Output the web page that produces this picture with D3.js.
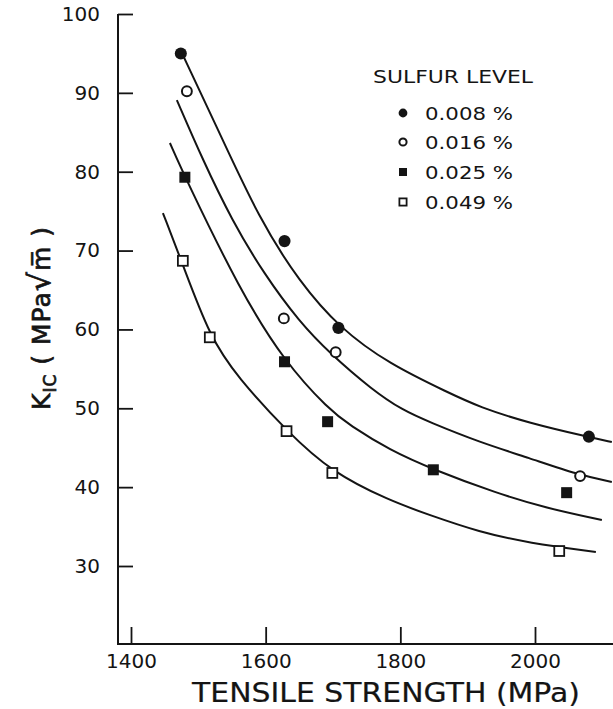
<!DOCTYPE html>
<html><head><meta charset="utf-8">
<script src="https://cdn.jsdelivr.net/npm/d3@7"></script>
<style>
body{margin:0;background:#fff}
svg{display:block}
text{font-family:"DejaVu Sans",sans-serif;fill:#141414}
</style>
</head><body>
<svg id="chart" width="613" height="709"></svg>
<script>
// ---- data ----
const sulfurLevels = ["0.008 %", "0.016 %", "0.025 %", "0.049 %"];
const markerKinds = ["filledCircle", "openCircle", "filledSquare", "openSquare"];
const xTicks = [1400, 1600, 1800, 2000];
const yTicks = [30, 40, 50, 60, 70, 80, 90, 100];

// measured points (tensile strength MPa, KIC MPa√m)
const strength008 = [1474, 1628, 1708, 2080];
const kic008      = [95.0, 71.2, 60.2, 46.4];
const strength016 = [1483, 1627, 1704, 2067];
const kic016      = [90.2, 61.4, 57.1, 41.4];
const strength025 = [1480, 1628, 1692, 1849, 2047];
const kic025      = [79.3, 55.9, 48.3, 42.2, 39.3];
const strength049 = [1477, 1517, 1631, 1699, 2036];
const kic049      = [68.7, 59.0, 47.1, 41.8, 31.9];

// fitted curves
const curve008 = [[1475.6,95.05],[1527.4,85.67],[1591.1,73.88],[1650.4,66.01],[1709.6,60.18],[1783.7,55.6],[1872.6,51.94],[1917.0,50.16],[1991.1,48.13],[2080.0,46.36],[2114.1,45.72]];
const curve016 = [[1468.1,89.09],[1506.7,81.48],[1549.6,73.88],[1598.5,66.90],[1650.4,60.94],[1694.8,57.01],[1758.5,52.32],[1803.0,49.78],[1843.0,48.26],[1917.0,45.72],[1991.1,43.70],[2065.2,41.54],[2114.1,40.65]];
const curve025 = [[1457.8,83.64],[1480.0,79.33],[1561.5,65.00],[1628.1,55.87],[1694.8,49.78],[1724.4,47.88],[1783.7,44.71],[1850.4,42.17],[1942.2,39.26],[2016.3,37.35],[2099.3,35.83]];
const curve049 = [[1447.4,74.76],[1475.6,68.55],[1517.0,59.04],[1558.5,53.9],[1632.6,46.99],[1697.8,41.92],[1783.7,38.3],[1843.0,36.47],[1917.0,34.31],[1991.1,32.92],[2090.4,31.78]];

const xTitle = "TENSILE STRENGTH (MPa)";
const legendTitle = "SULFUR LEVEL";

// ---- build ----
const series = [
  {label: sulfurLevels[0], kind: markerKinds[0], xs: strength008, ys: kic008, curve: curve008},
  {label: sulfurLevels[1], kind: markerKinds[1], xs: strength016, ys: kic016, curve: curve016},
  {label: sulfurLevels[2], kind: markerKinds[2], xs: strength025, ys: kic025, curve: curve025},
  {label: sulfurLevels[3], kind: markerKinds[3], xs: strength049, ys: kic049, curve: curve049}
];

const svg = d3.select("#chart");
const ink = "#141414";
const x = d3.scaleLinear().domain([1400, 2000]).range([131, 535]);
const y = d3.scaleLinear().domain([30, 100]).range([566, 14]);
const axisX0 = 118, axisY0 = 644;

// axes lines
svg.append("line").attr("x1", axisX0).attr("x2", axisX0).attr("y1", y(100)).attr("y2", axisY0)
  .attr("stroke", ink).attr("stroke-width", 2);
svg.append("line").attr("x1", axisX0 - 1).attr("x2", 613).attr("y1", axisY0).attr("y2", axisY0)
  .attr("stroke", ink).attr("stroke-width", 2);

const gx = svg.append("g").attr("transform", `translate(0,${axisY0})`)
  .call(d3.axisBottom(x).tickValues(xTicks).tickSize(-17).tickPadding(10).tickFormat(d3.format("d")));
gx.select(".domain").remove();
gx.selectAll(".tick line").attr("stroke", ink).attr("stroke-width", 1.8);
gx.selectAll(".tick text").attr("font-size", 20).attr("font-family", "DejaVu Sans").attr("fill", ink);

const gy = svg.append("g").attr("transform", `translate(${axisX0},0)`)
  .call(d3.axisLeft(y).tickValues(yTicks).tickSize(-15).tickPadding(18).tickFormat(d3.format("d")));
gy.select(".domain").remove();
gy.selectAll(".tick line").attr("stroke", ink).attr("stroke-width", 1.8);
gy.selectAll(".tick text").attr("font-size", 20).attr("font-family", "DejaVu Sans").attr("fill", ink);

// x title
svg.append("text").attr("x", 192).attr("y", 702)
  .attr("font-size", 26).attr("textLength", 388).attr("lengthAdjust", "spacingAndGlyphs")
  .attr("stroke", ink).attr("stroke-width", 0.2)
  .text(xTitle);

// y title
const yt = svg.append("text").attr("transform", "translate(50,318) rotate(-90)")
  .attr("text-anchor", "middle").attr("font-size", 25).attr("letter-spacing", 1)
  .attr("stroke", ink).attr("stroke-width", 0.7);
yt.append("tspan").text("K");
yt.append("tspan").attr("font-size", 17).attr("dy", 6).text("IC");
yt.append("tspan").attr("dy", -6).text(" ( MPa");
yt.append("tspan").attr("font-size", 30).text("\u221A");
yt.append("tspan").text("m\u0305 )");

// curves
const line = d3.line().x(d => x(d[0])).y(d => y(d[1])).curve(d3.curveBasis);
svg.append("g").selectAll("path").data(series).join("path")
  .attr("d", d => line(d.curve)).attr("fill", "none").attr("stroke", ink).attr("stroke-width", 2);

// markers
function drawMarker(g, kind, cx, cy, s) {
  if (kind === "filledCircle") g.append("circle").attr("cx", cx).attr("cy", cy).attr("r", s * 0.55).attr("fill", ink);
  else if (kind === "openCircle") g.append("circle").attr("cx", cx).attr("cy", cy).attr("r", s * 0.45).attr("fill", "#fff").attr("stroke", ink).attr("stroke-width", 2);
  else if (kind === "filledSquare") g.append("rect").attr("x", cx - s / 2).attr("y", cy - s / 2).attr("width", s).attr("height", s).attr("fill", ink);
  else g.append("rect").attr("x", cx - s * 0.45).attr("y", cy - s * 0.45).attr("width", s * 0.9).attr("height", s * 0.9).attr("fill", "#fff").attr("stroke", ink).attr("stroke-width", 1.8);
}
const gm = svg.append("g");
series.forEach(sr => sr.xs.forEach((v, i) => drawMarker(gm, sr.kind, x(v), y(sr.ys[i]), 11)));

// legend
svg.append("text").attr("x", 373).attr("y", 83).attr("font-size", 17)
  .attr("textLength", 160).attr("lengthAdjust", "spacingAndGlyphs").text(legendTitle);
const rows = [113, 142, 172, 202];
const gl = svg.append("g");
series.forEach((sr, i) => {
  drawMarker(gl, sr.kind, 403, rows[i], 8);
  gl.append("text").attr("x", 425).attr("y", rows[i] + 6.5).attr("font-size", 18)
    .attr("textLength", 88).attr("lengthAdjust", "spacingAndGlyphs").text(sr.label);
});
</script>
</body></html>
